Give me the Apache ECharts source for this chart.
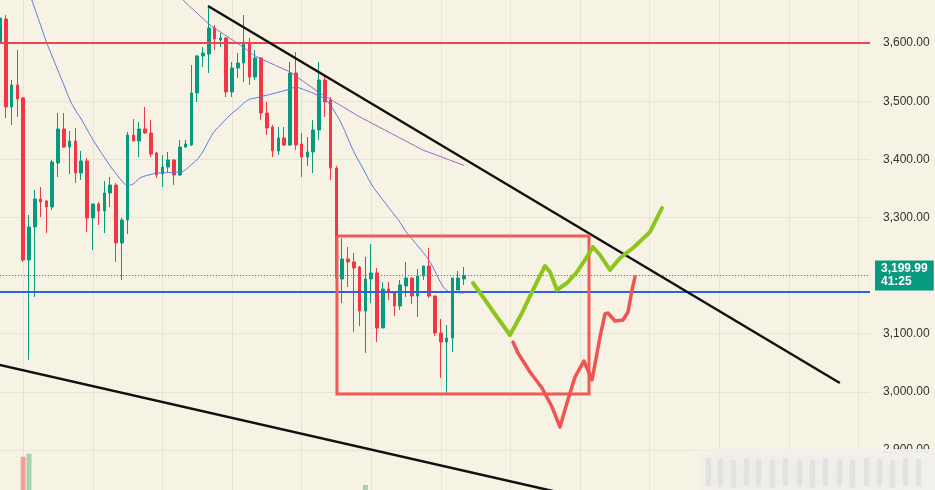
<!DOCTYPE html>
<html><head><meta charset="utf-8">
<script src="https://cdn.jsdelivr.net/npm/echarts@6/dist/echarts.min.js"></script>
<style>html,body{margin:0;padding:0;background:#f7f3e4;}#c{width:935px;height:490px;}</style>
</head><body><div id="c"></div>
<script>
// ---- data (prices) ----
// candles: [open, close, low, high]
const candles = [
[3600.2,3643.2,3565.8,3653.6],[3641.5,3490.1,3471.1,3648.4],[3490.1,3527.9,3459.1,3536.5],[3527.9,3503.8,3472.9,3588.2],
[3505.6,3226.8,3223.4,3507.3],[3226.8,3283.6,3054.7,3304.2],[3283.6,3331.8,3163.1,3347.2],[3331.8,3326.6,3300.8,3352.4],
[3328.3,3318.0,3273.2,3330.0],[3318.0,3395.5,3312.8,3398.9],[3393.7,3452.2,3369.6,3479.7],[3452.2,3421.2,3419.5,3479.7],
[3421.2,3431.6,3374.8,3448.8],[3431.6,3376.5,3359.3,3453.9],[3376.5,3397.2,3364.5,3414.4],[3397.2,3299.1,3275.0,3402.3],
[3299.1,3323.2,3244.0,3323.2],[3323.2,3311.1,3287.0,3326.6],[3311.1,3342.1,3273.2,3362.7],[3342.1,3355.8,3318.0,3369.6],
[3355.8,3256.1,3223.4,3359.3],[3256.1,3295.6,3192.4,3299.1],[3295.6,3441.9,3271.5,3447.1],[3441.9,3431.6,3431.6,3469.4],
[3431.6,3452.2,3404.0,3464.3],[3452.2,3445.3,3443.6,3490.1],[3445.3,3409.2,3404.0,3467.7],[3410.9,3373.1,3367.9,3412.6],
[3374.8,3386.8,3352.4,3407.5],[3386.8,3398.9,3376.5,3412.6],[3398.9,3373.1,3355.8,3400.6],[3373.1,3421.2,3371.3,3433.3],
[3421.2,3426.4,3419.5,3433.3],[3424.7,3514.2,3423.0,3562.3],[3514.2,3577.8,3498.7,3579.6],[3577.8,3583.0,3558.9,3593.3],
[3581.3,3626.0,3548.6,3660.4],[3626.0,3607.1,3588.2,3631.2],[3605.4,3608.8,3593.3,3617.4],[3608.8,3515.9,3507.3,3610.5],
[3515.9,3557.2,3507.3,3567.5],[3557.2,3565.8,3540.0,3583.0],[3565.8,3601.9,3533.1,3648.4],[3601.9,3541.7,3527.9,3608.8],
[3541.7,3574.4,3536.5,3588.2],[3574.4,3479.7,3467.7,3576.1],[3479.7,3453.9,3441.9,3498.7],[3455.7,3414.4,3404.0,3459.1],
[3414.4,3436.7,3407.5,3455.7],[3436.7,3424.7,3423.0,3455.7],[3424.7,3548.6,3423.0,3567.5],[3548.6,3424.7,3416.1,3584.7],
[3426.4,3404.0,3369.6,3445.3],[3404.0,3412.6,3388.6,3438.4],[3412.6,3450.5,3376.5,3467.7],[3450.5,3536.5,3433.3,3567.5],
[3536.5,3498.7,3472.9,3541.7],[3502.1,3385.1,3364.5,3507.3],[3385.1,3195.8,3192.4,3388.6],[3194.1,3228.5,3152.8,3264.6],
[3228.5,3223.4,3180.3,3249.2],[3223.4,3213.0,3102.9,3238.8],[3214.7,3139.0,3113.2,3216.5],[3139.0,3194.1,3066.8,3231.9],
[3194.1,3204.4,3152.8,3254.3],[3204.4,3109.8,3085.7,3213.0],[3109.8,3176.9,3109.8,3188.9],[3176.9,3170.0,3158.0,3188.9],
[3171.7,3147.6,3130.4,3173.5],[3147.6,3183.8,3140.7,3192.4],[3182.1,3195.8,3163.1,3223.4],[3195.8,3164.8,3151.1,3195.8],
[3164.8,3199.3,3128.7,3211.3],[3199.3,3216.5,3192.4,3216.5],[3216.5,3164.8,3161.4,3247.4],[3164.8,3101.2,3096.0,3164.8],
[3101.2,3085.7,3023.7,3125.3],[3085.7,3092.6,2998.0,3114.9],[3092.6,3195.8,3068.5,3195.8],[3175.2,3195.8,3175.2,3207.9],
[3194.1,3199.99,3183.8,3214.7]
];
// fast moving average (blue), starts at bar 5
const maFastStart = 5;
const maFast = [3688.0,3659.4,3630.8,3602.1,3577.3,3552.7,3528.3,3503.7,3484.7,3469.4,3451.9,3434.1,3418.3,3403.3,3388.5,
3375.5,3363.2,3355.5,3357.9,3367.0,3371.3,3373.9,3376.5,3376.8,3377.2,3377.7,3378.0,3382.4,3391.1,3399.9,3413.8,3432.3,
3448.4,3458.9,3469.6,3479.2,3487.1,3496.4,3503.2,3505.4,3507.8,3510.4,3512.9,3515.5,3518.1,3520.9,3524.0,3521.4,3517.8,
3513.8,3509.0,3504.0,3492.3,3477.0,3458.6,3435.5,3413.2,3394.7,3376.3,3357.9,3343.3,3330.4,3317.3,3304.4,3291.3,3275.7,
3263.3,3251.4,3239.3,3225.6,3207.5,3187.6,3174.6,3171.2,3170.5,3170.0];
// slow moving average (purple), starts at bar 31
const maSlowStart = 31;
const maSlow = [3679.4,3669.9,3660.6,3651.5,3642.2,3632.9,3625.8,3619.1,3612.4,3605.9,3599.2,3592.3,3585.2,3578.2,3572.8,
3568.4,3563.9,3559.3,3554.8,3550.1,3543.2,3536.2,3529.1,3522.3,3515.2,3509.2,3503.2,3497.1,3491.1,3485.1,3479.2,3473.2,
3467.9,3462.7,3457.5,3452.2,3447.1,3441.7,3436.6,3431.2,3426.1,3420.7,3415.7,3412.0,3408.3,3404.6,3400.8,3397.0,3393.4,3389.6];
// visible volume bars: [bar, volume(relative), direction]
const volumeBars = [[4, 9.8, 'down'], [5, 10.4, 'up'], [63, 4.4, 'up']];
// levels
const resistance = 3600;
const support = 3171.7;
const lastPrice = 3199.99;
const countdown = '41:25';
// drawings in (bar, price)
const upperTrend = [[35.86, 3663.9], [144.8, 3015.1]];
const lowerTrend = [[-2, 3050.6], [100, 2818.6]];
const rangeBox = [[58.1, 3268.1], [101.55, 3268.1], [101.55, 2996.2], [58.1, 2996.2], [58.1, 3268.1]];
const bullPath = [[81.55,3187.2],[83.28,3163.1],[85.69,3128.7],[87.93,3097.7],[90.0,3135.6],[91.9,3175.2],[93.97,3216.5],
[94.83,3206.1],[96.03,3175.2],[97.76,3187.2],[99.48,3206.1],[100.86,3226.8],[102.24,3249.2],[103.45,3235.4],[105.17,3209.6],
[106.9,3230.2],[109.14,3247.4],[112.07,3275.0],[114.14,3316.3]];
const bearPath = [[88.45,3085.7],[89.31,3066.8],[91.38,3034.1],[93.45,3006.5],[95.17,2974.2],[96.55,2939.4],[97.76,2981.0],
[99.14,3025.4],[100.69,3053.0],[102.07,3020.3],[103.45,3094.3],[104.31,3133.9],[104.83,3135.6],[106.03,3121.8],[107.41,3123.5],
[108.28,3137.3],[108.97,3175.2],[109.48,3197.6]];
const barSlots = 151; // bar slots across the visible chart (history + future space)
const priceMin = 2800, priceMax = 3700, priceStep = 100;

// ---- build ----
const categories = Array.from({length: barSlots}, (_, i) => String(i));
const fmt = v => Number(v).toLocaleString('en-US', {minimumFractionDigits: 2, maximumFractionDigits: 2});
const UP = '#089981', DOWN = '#f23645';

const chart = echarts.init(document.getElementById('c'));
const decoGraphic = [{
  type: 'rect', z: 100,
  shape: {x: 688, y: 449, width: 247, height: 41},
  style: {fill: new echarts.graphic.LinearGradient(0, 0, 1, 0, [
    {offset: 0, color: 'rgba(240,239,236,0)'},
    {offset: 0.12, color: 'rgba(240,239,236,0.92)'},
    {offset: 1, color: 'rgba(242,241,238,0.92)'}])}
}];
[706,718,731,744,756,770,783,797,810,823,837,850,864,877,890,903,916].forEach((x, k) => {
  decoGraphic.push({type: 'rect', z: 101, shape: {x: x, y: 458 + (k % 3), width: 5, height: 28},
    style: {fill: 'rgba(205,205,205,0.35)', shadowBlur: 8, shadowColor: 'rgba(205,205,205,0.7)'}});
});

chart.setOption({
  animation: false,
  backgroundColor: '#f7f3e4',
  grid: {left: 0, right: 65, top: -15, bottom: -18, outerBoundsMode: 'none', containLabel: false},
  xAxis: [
    {type: 'category', data: categories, boundaryGap: false,
     axisLine: {show: false}, axisTick: {show: false}, axisLabel: {show: false},
     splitLine: {show: true, interval: (i) => i % 12 === 4, lineStyle: {color: '#e9e4d1', width: 1}}},
    {type: 'value', min: 0, max: barSlots - 1, show: false}
  ],
  yAxis: [
    {type: 'value', position: 'right', min: priceMin, max: priceMax, interval: priceStep,
     axisLine: {show: false}, axisTick: {show: false},
     axisLabel: {formatter: fmt, color: '#333', fontSize: 12, fontFamily: 'Liberation Sans', margin: 13},
     splitLine: {show: true, lineStyle: {color: '#e9e4d1', width: 1}}},
    {type: 'value', min: 0, max: 100, show: false}
  ],
  graphic: decoGraphic,
  series: [
    {type: 'bar', xAxisIndex: 0, yAxisIndex: 1, barWidth: 5, z: 1,
     data: volumeBars.map(v => ({value: [v[0], v[1]], itemStyle: {color: v[2] === 'up' ? 'rgba(70,170,110,0.45)' : 'rgba(242,70,60,0.45)'}}))},
    {type: 'candlestick', xAxisIndex: 0, yAxisIndex: 0, data: candles, barWidth: 3, z: 2,
     itemStyle: {color: UP, color0: DOWN, borderColor: UP, borderColor0: DOWN, borderWidth: 1},
     markLine: {silent: true, symbol: ['none', 'none'], animation: false,
       data: [
         {yAxis: resistance, lineStyle: {color: '#ee4550', width: 2, type: 'solid'}, label: {show: false}},
         {yAxis: support, lineStyle: {color: '#2f62d8', width: 2, type: 'solid'}, label: {show: false}},
         {yAxis: lastPrice, lineStyle: {color: '#e0453f', width: 1, type: [1, 2]},
          label: {show: true, position: 'end', distance: 5, formatter: fmt(lastPrice) + '\n' + countdown,
            backgroundColor: '#089981', color: '#fff', fontSize: 12, fontWeight: 'bold', fontFamily: 'Liberation Sans',
            lineHeight: 13, padding: [2, 6, 2, 6], align: 'left'}}
       ]}},
    {type: 'line', xAxisIndex: 0, yAxisIndex: 0, z: 3, symbol: 'none', smooth: true,
     data: maFast.map((v, k) => [maFastStart + k, v]), lineStyle: {color: '#5578e0', width: 1}},
    {type: 'line', xAxisIndex: 0, yAxisIndex: 0, z: 3, symbol: 'none', smooth: true,
     data: maSlow.map((v, k) => [maSlowStart + k, v]), lineStyle: {color: '#9c5bbf', width: 1}},
    {type: 'line', xAxisIndex: 1, yAxisIndex: 0, z: 5, symbol: 'none', data: upperTrend,
     lineStyle: {color: '#111', width: 2.5}},
    {type: 'line', xAxisIndex: 1, yAxisIndex: 0, z: 5, symbol: 'none', data: lowerTrend,
     lineStyle: {color: '#111', width: 2.5}},
    {type: 'line', xAxisIndex: 1, yAxisIndex: 0, z: 6, symbol: 'none', data: rangeBox,
     lineStyle: {color: '#f05a5a', width: 3, join: 'miter'}},
    {type: 'line', xAxisIndex: 1, yAxisIndex: 0, z: 7, symbol: 'none', data: bullPath,
     lineStyle: {color: '#8cc61c', width: 4, cap: 'round', join: 'round'}},
    {type: 'line', xAxisIndex: 1, yAxisIndex: 0, z: 7, symbol: 'none', data: bearPath,
     lineStyle: {color: '#f25252', width: 3.5, cap: 'round', join: 'round'}}
  ]
});
</script></body></html>
